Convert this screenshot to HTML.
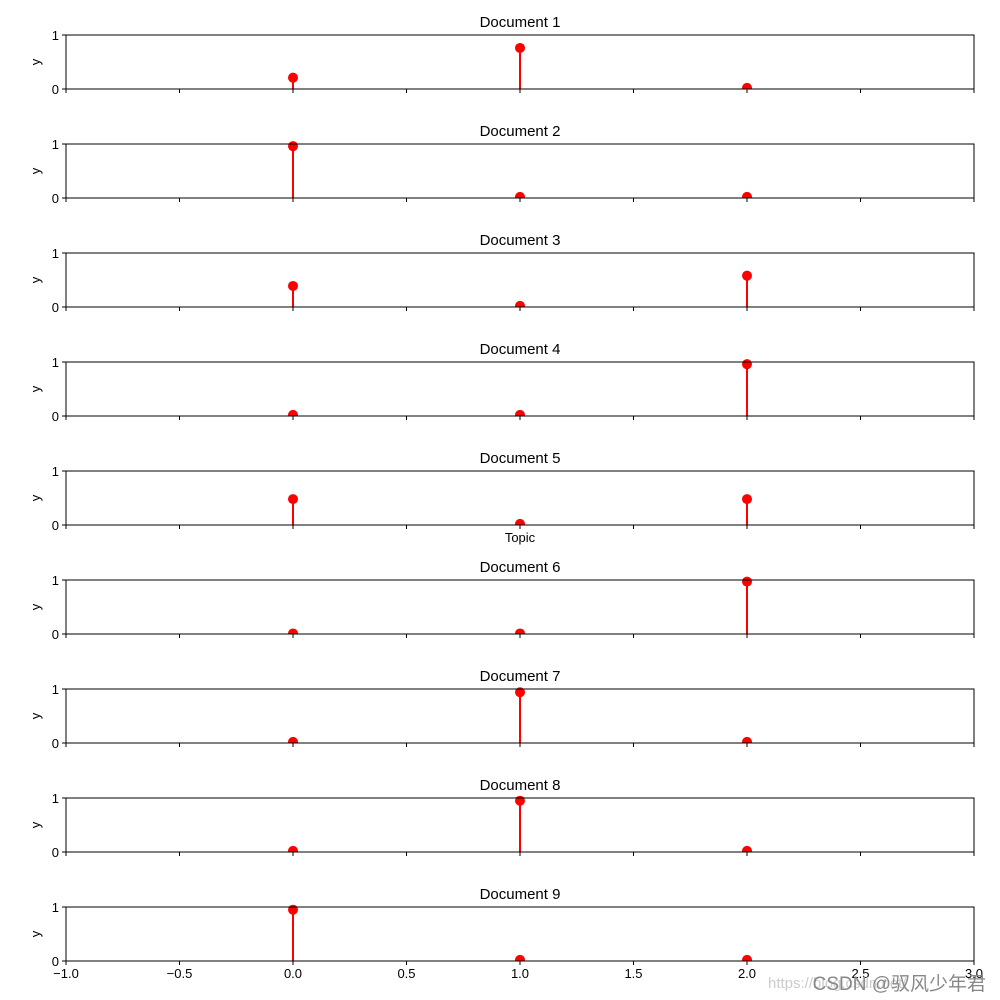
<!DOCTYPE html>
<html><head><meta charset="utf-8"><style>body{margin:0;background:#fff}svg{display:block;font-family:"Liberation Sans","DejaVu Sans",sans-serif}</style></head>
<body>
<svg id="chart" width="1000" height="1000" viewBox="0 0 1000 1000"></svg>
<script>
const topics = [0, 1, 2];
const docTitles = ["Document 1","Document 2","Document 3","Document 4","Document 5","Document 6","Document 7","Document 8","Document 9"];
const doc1 = [0.21, 0.76, 0.02];
const doc2 = [0.96, 0.02, 0.02];
const doc3 = [0.39, 0.02, 0.58];
const doc4 = [0.02, 0.02, 0.96];
const doc5 = [0.48, 0.02, 0.48];
const doc6 = [0.01, 0.01, 0.97];
const doc7 = [0.02, 0.94, 0.02];
const doc8 = [0.02, 0.95, 0.02];
const doc9 = [0.95, 0.02, 0.02];
const docValues = [doc1, doc2, doc3, doc4, doc5, doc6, doc7, doc8, doc9];
const xTicks = [-1, -0.5, 0, 0.5, 1, 1.5, 2, 2.5, 3];
const xTickLabels = ["\u22121.0","\u22120.5","0.0","0.5","1.0","1.5","2.0","2.5","3.0"];
const yTicks = [0, 1];

const NS = "http://www.w3.org/2000/svg";
const svg = document.getElementById("chart");
const L = 66, R = 974, H = 54, T0 = 35, STEP = 109;
const xs = v => L + (v - (-1)) / 4 * (R - L);
function mk(tag, attrs, parent) {
  const e = document.createElementNS(NS, tag);
  for (const k in attrs) e.setAttribute(k, attrs[k]);
  (parent || svg).appendChild(e);
  return e;
}
docValues.forEach((vals, i) => {
  const top = T0 + i * STEP, bot = top + H;
  const ys = v => bot - v * H;
  const g = mk("g", {});
  
  
  const t = mk("text", {x: (L + R) / 2, y: top - 8, "text-anchor": "middle", "font-size": 15}, g);
  t.textContent = docTitles[i];
  
  
  vals.forEach((v, j) => {
    const s = mk("line", {x1: xs(topics[j]), x2: xs(topics[j]), y1: bot, y2: ys(v), stroke: "#ff0000", "stroke-width": 2}, g);
    
    
    const c = mk("circle", {cx: xs(topics[j]), cy: ys(v), r: 5, fill: "#ff0000"}, g);
    
    
  });
  // white mask below axis to clip markers
  mk("rect", {x: L - 1, y: bot + 0.5, width: R - L + 2, height: 6, fill: "#fff"}, g);
  const fr = mk("rect", {x: L, y: top, width: R - L, height: H, fill: "none", stroke: "#000", "stroke-width": 1}, g);
  
  
  xTicks.forEach((v, k) => {
    mk("line", {x1: xs(v), x2: xs(v), y1: bot, y2: bot + 4, stroke: "#000", "stroke-width": 1}, g);
    if (i === docValues.length - 1) {
      const tl = mk("text", {x: xs(v), y: bot + 17, "text-anchor": "middle", "font-size": 13}, g);
      tl.textContent = xTickLabels[k];
      
      
    }
  });
  yTicks.forEach(v => {
    mk("line", {x1: L - 4, x2: L, y1: ys(v), y2: ys(v), stroke: "#000", "stroke-width": 1}, g);
    const yl = mk("text", {x: L - 7, y: ys(v) + 5, "text-anchor": "end", "font-size": 13}, g);
    yl.textContent = String(v);
    
    
  });
  const ya = mk("text", {x: 0, y: 0, "text-anchor": "middle", "font-size": 13, transform: `translate(40,${top + H / 2}) rotate(-90)`}, g);
  ya.textContent = "y";
  
  
});
const xt = mk("text", {x: (L + R) / 2, y: 542, "text-anchor": "middle", "font-size": 13});
xt.textContent = "Topic";


const wm1 = mk("text", {x: 768, y: 988, "font-size": 15, fill: "#cccccc"});
wm1.textContent = "https://blog.csdn.net/";


const wm2 = mk("text", {x: 986, y: 990, "text-anchor": "end", "font-size": 19, fill: "#888888", "font-family": "Liberation Sans, Noto Sans CJK SC, sans-serif"});
wm2.textContent = "CSDN @驭风少年君";


</script>
</body></html>
